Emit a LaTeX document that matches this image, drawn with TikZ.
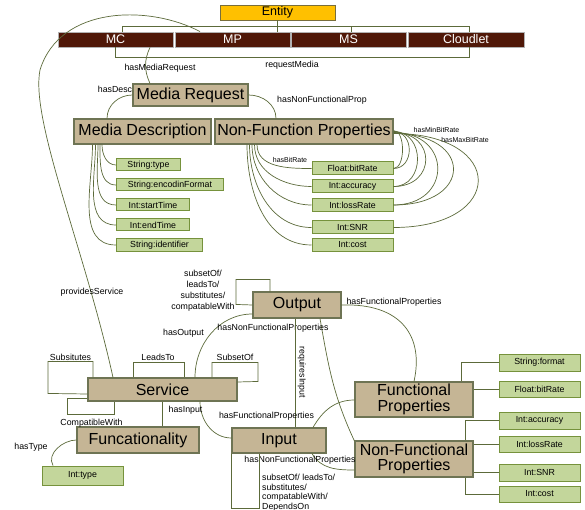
\documentclass[tikz,border=0pt]{standalone}
\usepackage{fontspec}
\setmainfont{Liberation Sans}
\usepackage{xcolor}
\definecolor{conceptfill}{RGB}{197,181,149}
\definecolor{conceptline}{RGB}{110,116,84}
\definecolor{attrfill}{RGB}{195,214,155}
\definecolor{attrline}{RGB}{118,146,60}
\definecolor{relline}{RGB}{92,106,58}
\definecolor{kindfill}{RGB}{80,24,8}
\definecolor{entityfill}{RGB}{255,192,0}
\definecolor{entityline}{RGB}{120,110,60}

\begin{document}
\begin{tikzpicture}[x=1pt,y=1pt]
        \tikzset{concept/.style={draw=conceptline,fill=conceptfill,line width=1.1pt,inner sep=0pt,
                font=\fontsize{16}{15.5}\selectfont,align=center},
            attr/.style={draw=attrline,fill=attrfill,line width=1pt,inner sep=0pt,
                font=\fontsize{8.8}{10}\selectfont},
            kind/.style={draw=gray!60,fill=kindfill,text=white,line width=0.8pt,inner sep=0pt,
                minimum width=115,minimum height=15,font=\fontsize{12.5}{14}\selectfont},
            rel/.style={draw=relline,line width=0.7pt},
            lbl/.style={inner sep=0pt,font=\fontsize{8.8}{11}\selectfont},
            tiny/.style={inner sep=0pt,font=\fontsize{7}{8}\selectfont}}
        \useasboundingbox (0,0) rectangle (585,-510);

        \node[kind,fill=entityfill,draw=entityline,text=black] (entity) at (277.5,-12.5) {Entity};
        \node[kind] (mc) at (115.5,-39.5) {MC};
        \node[kind] (mp) at (232.5,-39.5) {MP};
        \node[kind] (ms) at (348.5,-39.5) {MS};
        \node[kind,minimum width=116] (cloudlet) at (466,-39.5) {Cloudlet};

        \node[concept,minimum width=115,minimum height=22] (mediareq) at (190.5,-95) {Media Request};
        \node[concept,minimum width=137,minimum height=25] (mediadesc) at (142.5,-131.5) {Media Description};
        \node[concept,minimum width=178,minimum height=25] (nfprops) at (304,-131.5) {Non-Function Properties};

        \node[attr,anchor=west,minimum width=64,minimum height=12] (strtype) at (116,-165) {String:type};
        \node[attr,anchor=west,minimum width=107,minimum height=12] (strenc) at (116,-185) {String:encodinFormat};
        \node[attr,anchor=west,minimum width=73,minimum height=12] (intstart) at (116,-205) {Int:startTime};
        \node[attr,anchor=west,minimum width=73,minimum height=12] (intend) at (116,-225) {Int:endTime};
        \node[attr,anchor=west,minimum width=86,minimum height=12] (strident) at (116,-245) {String:identifier};

        \node[attr,minimum width=81,minimum height=13] (fbitrate) at (352.5,-168.5) {Float:bitRate};
        \node[attr,minimum width=81,minimum height=13] (iacc) at (352.5,-186.5) {Int:accuracy};
        \node[attr,minimum width=81,minimum height=13] (iloss) at (352.5,-205) {Int:lossRate};
        \node[attr,minimum width=81,minimum height=13] (isnr) at (352.5,-227.5) {Int:SNR};
        \node[attr,minimum width=81,minimum height=13] (icost) at (352.5,-245) {Int:cost};

        \node[concept,minimum width=88,minimum height=26] (output) at (297,-305) {Output};
        \node[concept,minimum width=149,minimum height=23] (service) at (162.5,-389.5) {Service};
        \node[concept,minimum width=122,minimum height=26] (functy) at (138,-440) {Funcationality};
        \node[attr,minimum width=81,minimum height=19] (inttype) at (82.5,-475.5) {Int:type};
        \node[concept,minimum width=94,minimum height=25] (input) at (279,-440.5) {Input};
        \node[concept,minimum width=118,minimum height=35] (funcprops) at (414,-399.5) {Functional\\Properties};
        \node[concept,minimum width=118,minimum height=36] (nonfunc) at (414,-459) {Non-Functional\\Properties};

        \node[attr,minimum width=81,minimum height=17] (sformat) at (539.5,-362.5) {String:format};
        \node[attr,minimum width=81,minimum height=16] (fbitrate2) at (539.5,-389) {Float:bitRate};
        \node[attr,minimum width=81,minimum height=17] (iacc2) at (539.5,-420.5) {Int:accuracy};
        \node[attr,minimum width=81,minimum height=16] (iloss2) at (539.5,-444) {Int:lossRate};
        \node[attr,minimum width=81,minimum height=17] (isnr2) at (539.5,-472.5) {Int:SNR};
        \node[attr,minimum width=81,minimum height=16] (icost2) at (539.5,-494) {Int:cost};

        \draw[rel] (entity.south) -- (entity.south |- mp.north);
        \draw[rel] ([xshift=6.5]mc.north) -- ++(0,5) -| ([xshift=3]cloudlet.north);
        \draw[rel] ([xshift=2.5]ms.north) -- ++(0,5);
        \draw[rel] (mc.south) -- ++(0,-10) -| ([xshift=3]cloudlet.south);
        \node[lbl] (lreq) at (292,-65) {requestMedia};

        \draw[rel] ([xshift=34.5]mc.south) to[out=-115,in=115] ([xshift=-40.5]mediareq.north);
        \node[lbl] (lmreq) at (160,-68) {hasMediaRequest};
        \draw[rel] (mediareq.west) to[out=180,in=90] ([xshift=-35.5]mediadesc.north);
        \node[lbl] (ldesc) at (115,-89) {hasDesc};
        \draw[rel] (mediareq.east) to[out=0,in=90] ([xshift=-28]nfprops.north);
        \node[lbl] (lnfp) at (322,-100) {hasNonFunctionalProp};

        \foreach \t/\s in {strtype/-40.5,strenc/-42.5,intstart/-44.5,intend/-47,strident/-50}
            \draw[rel] ([xshift=\s]mediadesc.south) to[out=-90,in=180] (\t.west);
        \foreach \t/\s in {fbitrate/-47,iacc/-49.5,iloss/-52,isnr/-54.5,icost/-57}
            \draw[rel] ([xshift=\s]nfprops.south) to[out=-90,in=180] (\t.west);
        \node[tiny] (lbitrate) at (290,-160) {hasBitRate};
        \foreach \t/\o/\d in {fbitrate/1/12,fbitrate/0/21,iacc/0/32,iacc/-1/43,iloss/-1/59,iloss/-2/80,isnr/-2/113}
            \draw[rel] ([yshift=\o]nfprops.east) .. controls +(\d,0) and +(\d,0) .. (\t.east);
        \node[tiny] (lminbr) at (436.5,-130) {hasMinBitRate};
        \node[tiny] (lmaxbr) at (465,-140) {hasMaxBitRate};

        \draw[rel] ([xshift=-32.5]mp.north) .. controls (150,-5) and (60,-5) .. (40,-70)
            .. controls (30,-120) and (85,-250) .. ([xshift=-49.5]service.north);
        \node[lbl] (lprov) at (92,-292) {providesService};

        \draw[rel] ([xshift=-69.5]service.north) -- ++(0,16) -| ++(-45,-32) -- ([yshift=-4.5]service.west);
        \node[lbl] (lsubst) at (70.5,-357) {Subsitutes};
        \draw[rel] ([xshift=-29.5]service.north) -- ++(0,15) -| ([xshift=21.5]service.north);
        \node[lbl] (lleads) at (158,-357) {LeadsTo};
        \draw[rel] ([xshift=49.5]service.north) -- ++(0,15) -| ++(46,-19) -- ([yshift=7.5]service.east);
        \node[lbl] (lsubset) at (235,-357) {SubsetOf};
        \draw[rel] ([yshift=-8.5]service.west) -- ++(-20,0) |- ([xshift=-48.5,yshift=-13]service.south)
            -- ([xshift=-48.5]service.south);
        \node[lbl] (lcompat) at (91.5,-423) {CompatibleWith};

        \draw[rel] (service.south) -- (service.south |- functy.north);
        \draw[rel] (functy.west) to[out=180,in=120] ([xshift=-29.5]inttype.north);
        \node[lbl] (ltype) at (31,-447) {hasType};

        \draw[rel] ([xshift=37.5]service.south) to[out=-90,in=180] ([yshift=2.5]input.west);
        \node[lbl] (lin) at (185.5,-410) {hasInput};
        \draw[rel] ([xshift=32.5]service.north) to[out=90,in=180] ([yshift=-9]output.west);
        \node[lbl] (lout) at (183.5,-333) {hasOutput};

        \draw[rel] ([xshift=-27]output.north) -- ++(0,12) -| ++(-34,-25) -- (output.west);
        \node[lbl,align=center] (loutloop) at (203,-291) {subsetOf/\\leadsTo/\\substitutes/\\compatableWith};

        \draw[rel] ([xshift=23]output.south) to[out=-80,in=115] ([yshift=18]nonfunc.west);
        \node[lbl] (loutnfp) at (273,-328) {hasNonFunctionalProperties};
        \draw[rel] (output.east) .. controls +(60,2) and +(10,45) .. (funcprops.north);
        \node[lbl] (loutfp) at (394,-302) {hasFunctionalProperties};
        \draw[rel] ([xshift=-2]output.south) -- ([xshift=-2]output.south |- input.north);
        \node[lbl,rotate=-90] (lreqin) at (302,-372) {requiresInput};

        \draw[rel] ([xshift=34]input.north) to[out=60,in=180] ([yshift=-0.5]funcprops.west);
        \node[lbl] (linfp) at (266.5,-416) {hasFunctionalProperties};
        \draw[rel] ([xshift=33]input.south) to[out=-60,in=180] ([yshift=-11]nonfunc.west);
        \node[lbl] (linnfp) at (300,-460) {hasNonFunctionalProperties};
        \draw[rel] (input.south west) -- ++(0,-55) -| ([xshift=-20]input.south);
        \node[lbl,align=left,anchor=north west,font=\fontsize{8.8}{9.5}\selectfont] (linloop) at (262,-474)
            {subsetOf/ leadsTo/\\substitutes/\\compatableWith/\\DependsOn};

        \draw[rel] ([xshift=47]funcprops.north) |- (sformat.west);
        \draw[rel] (fbitrate2.west -| funcprops.east) -- (fbitrate2.west);
        \draw[rel] ([xshift=51]nonfunc.north) |- (iacc2.west);
        \draw[rel] (iloss2.west -| nonfunc.east) -- (iloss2.west);
        \draw[rel] (isnr2.west -| nonfunc.east) -- (isnr2.west);
        \draw[rel] ([xshift=51]nonfunc.south) |- (icost2.west);
\end{tikzpicture}
\end{document}
